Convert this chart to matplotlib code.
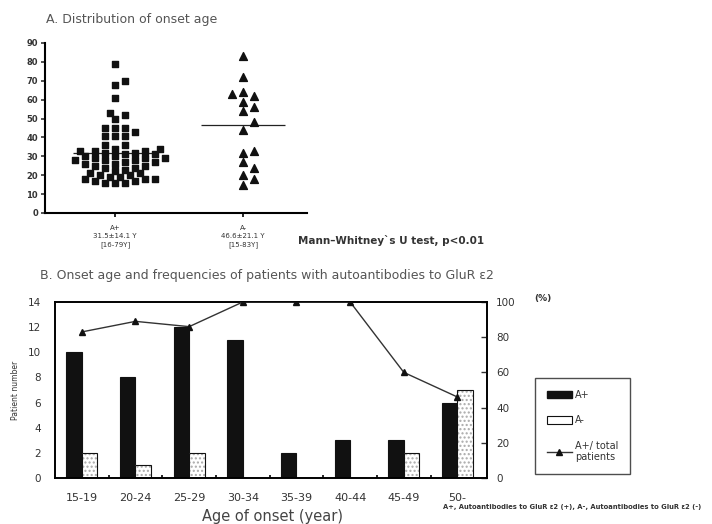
import numpy as np
import matplotlib
matplotlib.use('Agg')
import matplotlib.pyplot as plt
from matplotlib.patches import Patch
from matplotlib.lines import Line2D

plt.rcParams['font.family'] = ['DejaVu Sans']

# A. 发病年龄分布 (onset age of each patient)
age_pos = [79, 70, 68, 61, 53, 52, 50, 45, 45, 45, 43, 41, 41, 41, 36, 36,
           34, 34, 33, 33, 33, 32, 32, 31, 31, 30, 30,
           29, 29, 29, 28, 28, 28, 27, 27, 26, 26, 25, 25,
           24, 24, 23, 22, 21, 21, 20, 20,
           19, 19, 18, 18, 18, 17, 17, 16, 16, 16]
age_neg = [83, 72, 64, 63, 62, 59, 56, 54, 48, 44, 33, 32, 27, 24, 20, 18, 15]
mean_pos = 31.5
mean_neg = 46.6
group_labels = ['A+\n31.5±14.1 Y\n[16-79Y]', 'A-\n46.6±21.1 Y\n[15-83Y]']

# B. 各年龄段患者数
age_groups = ['15-19', '20-24', '25-29', '30-34', '35-39', '40-44', '45-49', '50-']
n_pos = [10, 8, 12, 11, 2, 3, 3, 6]
n_neg = [2, 1, 2, 0, 0, 0, 2, 7]
pct_pos = [83, 89, 86, 100, 100, 100, 60, 46]

txt = '#333333'


def swarm_x(center, vals, ppx=127.8, ppy=1.889, d=7.5, step=5.3):
    # 简单的 beeswarm：按像素距离避免重叠
    vals = np.asarray(vals, dtype=float)
    xs = np.zeros(len(vals))
    placed = []
    for i in np.argsort(vals):
        y = vals[i] * ppy
        k = 0
        while True:
            cands = [0.0] if k == 0 else [k * step, -k * step]
            ok = None
            for c in cands:
                if all((c - px) ** 2 + (y - py) ** 2 >= d * d for px, py in placed):
                    ok = c
                    break
            if ok is not None:
                break
            k += 1
        placed.append((ok, y))
        xs[i] = center + ok / ppx
    return xs


fig = plt.figure(figsize=(7.12, 5.24), dpi=100)

# ---------- A ----------
ax1 = fig.add_axes([45/712, 1-213/524, 262/712, 170/524])
ax1.scatter(swarm_x(1, age_pos, d=6.5, step=5), age_pos, marker='s', s=22, color='#111111', zorder=3)
ax1.scatter(swarm_x(2, age_neg, d=9, step=11), age_neg, marker='^', s=32, color='#111111', zorder=3)
ax1.hlines([mean_pos, mean_neg], [0.67, 1.67], [1.33, 2.33], color='#222222', lw=0.9)
ax1.set_xlim(0.45, 2.5)
ax1.set_ylim(0, 90)
ax1.set_yticks(range(0, 91, 10))
ax1.set_xticks([1, 2])
ax1.set_xticklabels(group_labels, fontsize=5, color=txt, linespacing=1.35)
ax1.tick_params(axis='y', labelsize=6, length=3, width=1.2, colors=txt, pad=2)
ax1.tick_params(axis='x', length=3, width=1.2, pad=6)
for lab in ax1.get_yticklabels():
    lab.set_fontweight('bold')
for s in ['top', 'right']:
    ax1.spines[s].set_visible(False)
for s in ['left', 'bottom']:
    ax1.spines[s].set_linewidth(1.5)

fig.text(46/712, 1-20/524, 'A. Distribution of onset age', fontsize=9, color='#555555', va='center')
fig.text(298/712, 1-240/524, 'Mann\u2013Whitney`s U test, p<0.01', fontsize=7.5,
         fontweight='bold', color=txt, va='center')

# ---------- B ----------
fig.text(40/712, 1-275/524, 'B. Onset age and frequencies of patients with autoantibodies to GluR ε2',
         fontsize=9, color='#555555', va='center')

ax2 = fig.add_axes([55/712, 46/524, 432/712, 176/524])
x = np.arange(len(age_groups))
w = 0.29
ax2.bar(x - w/2, n_pos, w, color='#111111', edgecolor='#111111', lw=0.8, zorder=2)
ax2.bar(x + w/2, n_neg, w, color='white', edgecolor='#aaaaaa', hatch='....', lw=0, zorder=2)
ax2.bar(x + w/2, n_neg, w, color='none', edgecolor='#111111', lw=0.8, zorder=3)
ax2.set_xlim(-0.5, 7.55)
ax2.set_ylim(0, 14)
ax2.set_yticks(range(0, 15, 2))
ax2.set_xticks(x)
ax2.set_xticklabels(age_groups)
ax2.set_xticks(x[:-1] + 0.5, minor=True)
ax2.tick_params(axis='x', which='major', length=0, pad=11, labelsize=8, colors=txt)
ax2.tick_params(axis='x', which='minor', direction='in', length=2, width=1.2)
ax2.tick_params(axis='y', length=0, pad=10, labelsize=7.5, colors=txt)
for s in ax2.spines.values():
    s.set_linewidth(1.2)

ax3 = ax2.twinx()
ax3.plot(x, pct_pos, color='#333333', lw=1, marker='^', ms=4, mfc='#111111', mec='#111111', zorder=4)
ax3.set_ylim(0, 100)
ax3.set_yticks(range(0, 101, 20))
ax3.tick_params(axis='y', direction='in', length=4, width=1, pad=6.5, labelsize=7.5, colors=txt)
for s in ax3.spines.values():
    s.set_linewidth(1.2)

fig.text(15/712, 1-390/524, 'Patient number', rotation=90, fontsize=5.5, color=txt,
         ha='center', va='center')
fig.text(272/712, 1-517/524, 'Age of onset (year)', fontsize=10.5, color='#444444',
         ha='center', va='center')
fig.text(543/712, 1-298/524, '(%)', fontsize=6.5, fontweight='bold', color=txt,
         ha='center', va='center')

handles = [Patch(facecolor='#111111', edgecolor='#111111'),
           Patch(facecolor='white', edgecolor='#111111', lw=0.8),
           Line2D([], [], color='#333333', lw=1, marker='^', ms=4, mfc='#111111', mec='#111111')]
leg = fig.legend(handles, ['A+', 'A-', 'A+/ total\npatients'], loc='upper left',
                 bbox_to_anchor=(535/712, 1-378/524), fontsize=7, frameon=True,
                 fancybox=False, edgecolor='#222222', borderpad=1.2, labelspacing=1.6,
                 handlelength=2.6, handleheight=0.8, handletextpad=0.3,
                 borderaxespad=0)
leg.get_frame().set_linewidth(1)
for t in leg.get_texts():
    t.set_color(txt)

fig.text(443/712, 1-507/524, 'A+, Autoantibodies to GluR ε2 (+), A-, Autoantibodies to GluR ε2 (-)',
         fontsize=4.9, fontweight='bold', color=txt, va='center')

fig.savefig('out.png', dpi=100)
